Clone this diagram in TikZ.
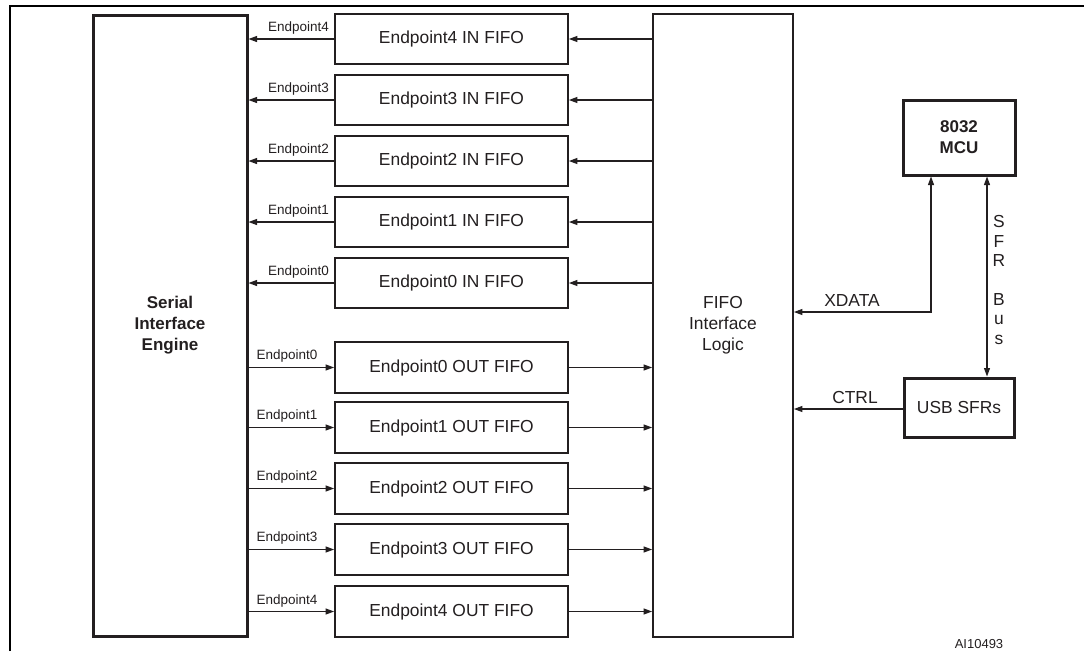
\documentclass[tikz,border=0pt]{standalone}
\usepackage{fontspec}
\setmainfont{Liberation Sans}
\usetikzlibrary{arrows.meta}
\definecolor{ink}{RGB}{35,31,32}
\tikzset{
  fbox/.style={draw=ink, line width=1.8pt, fill=white, inner sep=0pt, minimum width=233pt, minimum height=50pt, font=\fontsize{17.4}{20}\selectfont, text=ink},
  thickbox/.style={draw=ink, line width=3pt, inner sep=0pt, text=ink},
  arr/.style={draw=ink, line width=1.1pt, -{Triangle[length=8.5pt,width=6pt]}},
  darr/.style={draw=ink, line width=1.1pt, {Triangle[length=8.5pt,width=6pt]}-{Triangle[length=8.5pt,width=6pt]}},
  lbl/.style={font=\fontsize{13.5}{15}\selectfont, text=ink, inner sep=0pt},
  bigl/.style={font=\fontsize{17.4}{20}\selectfont, text=ink, inner sep=0pt}
}
\begin{document}
\begin{tikzpicture}[x=1pt,y=-1pt]
\useasboundingbox (0,0) rectangle (1084,651);
% outer frame
\draw[black, line width=2pt] (10,651) -- (10,6) -- (1084,6);
% main blocks
\node[thickbox, minimum width=154pt, minimum height=621pt, align=center, font=\bfseries\fontsize{17}{21}\selectfont] (sie) at (170,325.5) {Serial\\Interface\\Engine};
\node[draw=ink, line width=1.8pt, inner sep=0pt, minimum width=140pt, minimum height=623pt, align=center, font=\fontsize{17.4}{21}\selectfont, text=ink] (fifo) at (723,325.5) {FIFO\\Interface\\Logic};
\node[thickbox, minimum width=112pt, minimum height=75pt, align=center, font=\bfseries\fontsize{17}{21}\selectfont] (mcu) at (959,137.5) {8032\\MCU};
\node[thickbox, minimum width=110pt, minimum height=59pt, font=\fontsize{17.4}{20}\selectfont] (usb) at (959,407.5) {USB SFRs};
% IN FIFOs
\foreach \n/\y in {4/39,3/100,2/161,1/222,0/283}{
  \node[fbox] (in\n) at (451.5,\y) {Endpoint\n\ IN FIFO};
  \draw[arr] (fifo.west |- in\n.east) -- (in\n.east);
  \draw[arr] (in\n.west) -- (sie.east |- in\n.west);
  \path (in\n.west) ++(-5,-11) node[lbl, anchor=east] {Endpoint\n};
}
% OUT FIFOs
\foreach \n/\y in {0/367.5,1/427.5,2/488.5,3/549.5,4/611.5}{
  \node[fbox, minimum height=51pt] (out\n) at (451.5,\y) {Endpoint\n\ OUT FIFO};
  \draw[arr] (sie.east |- out\n.west) -- (out\n.west);
  \draw[arr] (out\n.east) -- (fifo.west |- out\n.east);
  \path (sie.east |- out\n.west) ++(8,-11) node[lbl, anchor=west] {Endpoint\n};
}
% XDATA
\coordinate (xd) at (931,312);
\draw[darr] (mcu.south -| xd) -- (xd) -- (fifo.east |- xd);
\node[bigl] (xdl) at (852,301) {XDATA};
% SFR bus
\coordinate (sb) at (987,300);
\draw[darr] (mcu.south -| sb) -- (usb.north -| sb);
\node[align=center, font=\fontsize{17.4}{19.4}\selectfont, text=ink, inner sep=0pt] (sfr) at (999,280) {S\\F\\R\\\mbox{}\\B\\u\\s};
% CTRL
\coordinate (ct) at (850,409);
\draw[arr] (usb.west |- ct) -- (fifo.east |- ct);
\node[bigl] (ctl) at (855,398) {CTRL};
% figure id
\node[lbl, font=\fontsize{13}{15}\selectfont] (aid) at (979,644) {AI10493};
\end{tikzpicture}
\end{document}
